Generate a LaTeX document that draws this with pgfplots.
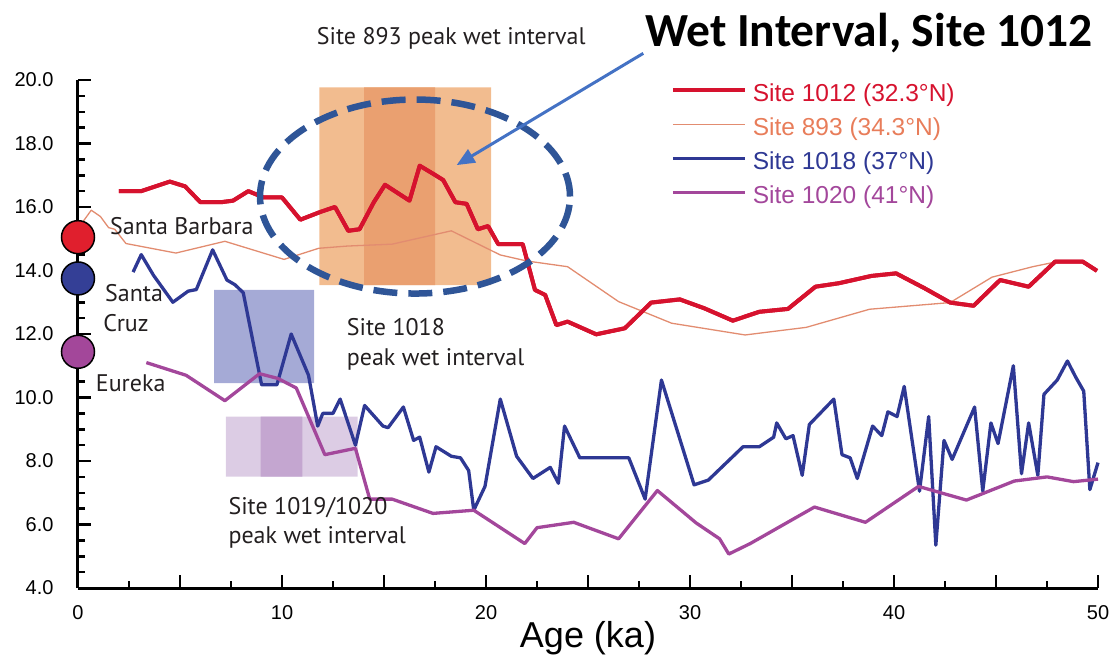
\documentclass[border=0pt]{standalone}
\usepackage{fontspec}
\setmainfont{Liberation Sans}
\newfontfamily\myr{PT Sans}
\newfontfamily\calb{Carlito}
\usepackage{pgfplots}
\usepackage{pgfplotstable}
\pgfplotsset{compat=1.18}
\usetikzlibrary{arrows.meta}

\definecolor{cA}{RGB}{214,18,46}
\definecolor{cB}{RGB}{226,140,112}
\definecolor{cBt}{RGB}{232,125,90}
\definecolor{cC}{RGB}{46,56,148}
\definecolor{cD}{RGB}{163,71,155}
\definecolor{orL}{RGB}{242,188,143}
\definecolor{orD}{RGB}{234,160,112}
\definecolor{blR}{RGB}{165,170,214}
\definecolor{puL}{RGB}{220,204,228}
\definecolor{puD}{RGB}{196,166,208}
\definecolor{ell}{RGB}{47,85,151}
\definecolor{arr}{RGB}{68,114,196}
\definecolor{txt}{RGB}{35,31,32}
\definecolor{dotR}{RGB}{224,31,45}
\definecolor{dotB}{RGB}{52,63,150}
\definecolor{dotP}{RGB}{163,71,154}

\pgfplotstableread{
x y
2.0 16.5
3.1 16.5
4.5 16.8
5.25 16.65
6.0 16.15
7.0 16.15
7.6 16.2
8.35 16.5
9.1 16.3
10.0 16.3
10.9 15.6
11.9 15.85
12.6 16.0
13.25 15.25
13.8 15.3
14.5 16.15
15.05 16.7
16.25 16.2
16.75 17.3
17.4 17.05
17.9 16.85
18.5 16.15
19.05 16.1
19.6 15.3
20.1 15.4
20.6 14.83
21.8 14.83
22.4 13.39
22.9 13.23
23.45 12.28
24.0 12.39
25.4 11.99
26.8 12.18
28.1 12.99
29.5 13.09
30.7 12.81
32.1 12.42
33.4 12.70
34.8 12.79
36.15 13.49
37.3 13.60
38.9 13.83
40.1 13.91
41.5 13.44
42.75 12.99
43.9 12.89
45.2 13.70
46.6 13.49
47.9 14.28
49.25 14.28
49.95 13.99
}\tabA

\pgfplotstableread{
x y
0.2 15.5
0.65 15.9
1.1 15.7
1.5 15.35
1.8 15.3
2.35 14.85
4.8 14.55
7.2 14.92
10.1 14.35
11.8 14.7
13.2 14.77
15.4 14.83
18.3 15.25
20.7 14.49
22.0 14.3
24.0 14.12
26.5 13.02
29.1 12.34
32.7 11.97
35.7 12.21
38.8 12.78
42.75 12.99
44.8 13.79
46.8 14.12
48.0 14.28
49.2 14.31
}\tabB

\pgfplotstableread{
x y
2.7 13.95
3.1 14.5
3.7 13.85
4.65 13.0
5.4 13.35
5.8 13.4
6.6 14.65
7.3 13.7
7.7 13.55
8.1 13.3
9.0 10.4
9.75 10.4
10.45 12.0
11.3 10.7
11.75 9.1
12.0 9.5
12.5 9.5
12.85 9.95
13.6 8.5
14.05 9.75
14.95 9.1
15.2 9.05
15.95 9.7
16.45 8.65
16.75 8.75
17.2 7.65
17.55 8.45
18.3 8.15
18.75 8.1
19.15 7.7
19.4 6.45
19.95 7.2
20.7 9.95
21.5 8.15
22.3 7.45
23.15 7.8
23.55 7.3
23.85 9.1
24.6 8.1
27.0 8.1
27.8 6.8
28.6 10.55
30.2 7.25
30.9 7.4
32.6 8.45
33.4 8.45
34.1 8.75
34.25 9.2
34.7 8.7
35.05 8.8
35.5 7.55
35.85 9.15
37.05 9.95
37.45 8.2
37.85 8.1
38.2 7.45
38.95 9.1
39.4 8.8
39.7 9.55
40.15 9.4
40.5 10.35
41.25 7.05
41.7 9.4
42.05 5.35
42.45 8.65
42.85 8.05
43.95 9.7
44.35 7.05
44.75 9.2
45.1 8.55
45.85 11.0
46.25 7.6
46.6 9.2
47.05 7.55
47.35 10.1
48.0 10.55
48.5 11.15
48.9 10.65
49.3 10.2
49.6 7.1
50.0 7.95
}\tabC

\pgfplotstableread{
x y
3.35 11.1
5.3 10.7
7.2 9.9
8.9 10.75
9.8 10.6
10.7 10.3
12.1 8.2
13.6 8.4
14.3 6.8
15.4 6.8
17.4 6.35
19.4 6.45
21.9 5.4
22.5 5.9
24.3 6.07
26.5 5.55
28.4 7.07
30.3 6.05
31.45 5.55
31.9 5.07
32.95 5.4
36.1 6.55
38.6 6.07
41.2 7.2
43.55 6.77
45.9 7.37
47.5 7.5
48.8 7.35
50.0 7.43
}\tabD

\begin{document}
\begin{tikzpicture}
\begin{axis}[
  scale only axis, width=1020pt, height=508pt,
  xmin=0, xmax=50, ymin=4, ymax=20,
  axis x line=bottom, axis y line=left,
  axis line style={-, line width=3pt, black},
  every outer x axis line/.append style={-, line width=3pt},
  every outer y axis line/.append style={-, line width=3pt},
  every inner x axis line/.append style={-, line width=3pt},
  every inner y axis line/.append style={-, line width=3pt},
  clip=false,
  xtick={0,5,...,50}, xticklabels={0,,10,,20,,30,,40,,50},
  minor x tick num=1,
  ytick={4,6,...,20}, minor y tick num=3,
  tick align=inside,
  major tick length=13pt, minor tick length=7pt,
  tick style={line width=2.5pt, black},
  major tick style={line width=2.5pt, black},
  minor tick style={line width=2.5pt, black},
  yticklabel style={font=\fontsize{20}{24}\selectfont, xshift=-21pt},
  xticklabel style={font=\fontsize{20}{24}\selectfont, yshift=-14pt},
  /pgf/number format/.cd, fixed, fixed zerofill, precision=1, assume math mode=true,
  /pgfplots/.cd,
  xlabel={Age (ka)},
  xlabel style={font=\fontsize{36}{40}\selectfont, at={(axis description cs:0.5,-0.0984)}, anchor=center},
  legend style={draw=none, fill=none, at={(axis cs:29.05,19.9)}, anchor=north west,
    font=\fontsize{24.5}{29}\selectfont, inner sep=0pt, row sep=11pt, column sep=6pt,
    nodes={inner sep=0pt, text height=18pt, text depth=5pt}},
  legend cell align=left,
  legend image code/.code={\draw[#1] (0pt,4.5pt) -- (72pt,4.5pt);},
]
% shaded intervals
\addplot[draw=none, fill=orL, forget plot] coordinates {(11.83,13.54) (20.25,13.54) (20.25,19.77) (11.83,19.77) (11.83,13.54)};
\addplot[draw=none, fill=orD, forget plot] coordinates {(14.02,13.54) (17.5,13.54) (17.5,19.77) (14.02,19.77) (14.02,13.54)};
\addplot[draw=none, fill=blR, forget plot] coordinates {(6.67,10.45) (11.58,10.45) (11.58,13.39) (6.67,13.39) (6.67,10.45)};
\addplot[draw=none, fill=puL, forget plot] coordinates {(7.25,7.51) (13.71,7.51) (13.71,9.40) (7.25,9.40) (7.25,7.51)};
\addplot[draw=none, fill=puD, forget plot] coordinates {(8.95,7.51) (11.0,7.51) (11.0,9.40) (8.95,9.40) (8.95,7.51)};

\addplot[color=cA, line width=4pt, line join=round] table[x=x,y=y] {\tabA};
\addlegendentry{\textcolor{cA}{Site 1012 (32.3°N)}}
\addplot[color=cB, line width=1.3pt, line join=round] table[x=x,y=y] {\tabB};
\addlegendentry{\textcolor{cBt}{Site 893 (34.3°N)}}
\addplot[color=cC, line width=3.3pt, line join=round] table[x=x,y=y] {\tabC};
\addlegendentry{\textcolor{cC}{Site 1018 (37°N)}}
\addplot[color=cD, line width=3.3pt, line join=round] table[x=x,y=y] {\tabD};
\addlegendentry{\textcolor{cD}{Site 1020 (41°N)}}
\addplot[color=cA, line width=4pt, line join=round, forget plot] table[x=x,y=y] {\tabA};

% site dots
\addplot[only marks, mark=*, mark size=16.5pt, mark options={fill=dotR, draw=black, line width=1.5pt}, forget plot] coordinates {(0,15.05)};
\addplot[only marks, mark=*, mark size=16.5pt, mark options={fill=dotB, draw=black, line width=1.5pt}, forget plot] coordinates {(0,13.75)};
\addplot[only marks, mark=*, mark size=16.5pt, mark options={fill=dotP, draw=black, line width=1.5pt}, forget plot] coordinates {(0,11.44)};

% text annotations
\begin{scope}[every node/.style={font=\myr\fontsize{24}{28}\selectfont, text=txt, inner sep=0pt}]
\node[anchor=base west] at (axis cs:1.57,15.12) {Santa Barbara};
\node[anchor=base west] at (axis cs:1.32,13.02) {Santa};
\node[anchor=base west] at (axis cs:1.24,12.07) {Cruz};
\node[anchor=base west] at (axis cs:0.87,10.18) {Eureka};
\node[anchor=base west] at (axis cs:11.7,21.13) {Site 893 peak wet interval};
\node[anchor=base west] at (axis cs:13.17,11.94) {Site 1018};
\node[anchor=base west] at (axis cs:13.17,11.0) {peak wet interval};
\node[anchor=base west] at (axis cs:7.37,6.30) {Site 1019/1020};
\node[anchor=base west] at (axis cs:7.37,5.41) {peak wet interval};
\end{scope}

\draw[ell, line width=6.5pt, dash pattern=on 24pt off 11pt] (axis cs:16.52,16.33) ellipse [x radius=155pt, y radius=97pt];
\draw[arr, line width=3pt, -{Triangle[length=18pt,width=15pt]}] (axis cs:27.71,20.84) -- (axis cs:18.56,17.32);
\node[anchor=base west, inner sep=0pt, font=\calb\bfseries\fontsize{47.5}{52}\selectfont] at (axis cs:27.79,21.07) {Wet Interval, Site 1012};

\coordinate (bbBL) at (axis cs:-3.8235,1.638);
\coordinate (bbTR) at (axis cs:50.784,22.52);
\end{axis}
\pgfresetboundingbox
\useasboundingbox (bbBL) rectangle (bbTR);
\end{tikzpicture}
\end{document}
